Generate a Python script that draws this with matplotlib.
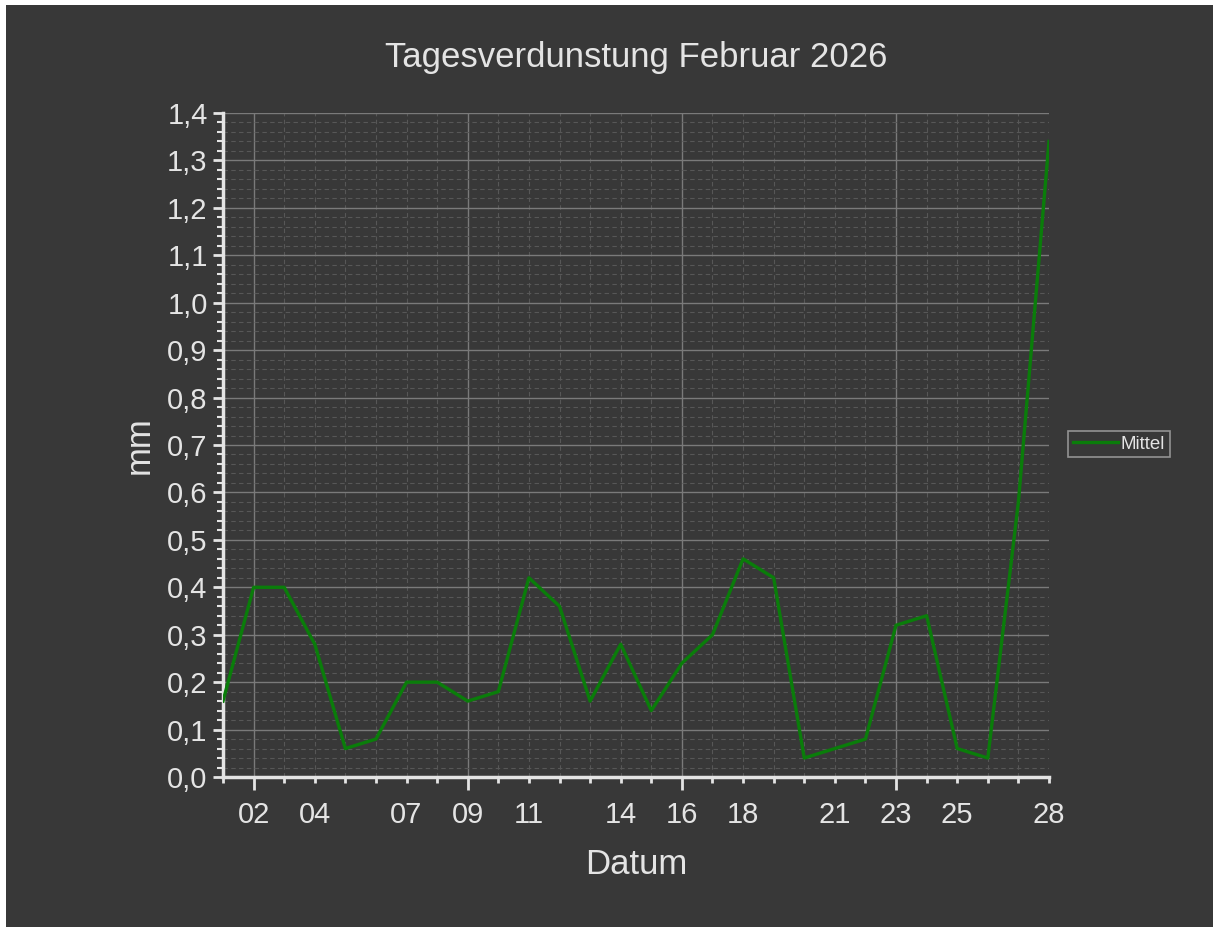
import matplotlib
matplotlib.use("Agg")
import matplotlib.pyplot as plt
from matplotlib.patches import Rectangle
from matplotlib.ticker import FixedLocator, FixedFormatter, MultipleLocator, FuncFormatter

# Tagesverdunstung Februar 2026 (mm)
days = list(range(1, 29))
mittel = [0.16, 0.40, 0.40, 0.28, 0.06, 0.08, 0.20, 0.20, 0.16, 0.18,
          0.42, 0.36, 0.16, 0.28, 0.14, 0.24, 0.30, 0.46, 0.42, 0.04,
          0.06, 0.08, 0.32, 0.34, 0.06, 0.04, 0.58, 1.34]

major_days = [2, 9, 16, 23]
major_labels = ["02", "09", "16", "23"]
minor_days = [d for d in days if d not in major_days]
minor_label_map = {4: "04", 7: "07", 11: "11", 14: "14", 18: "18",
                   21: "21", 25: "25", 28: "28"}

bg = "#383838"
fg = "#e4e4e4"
plt.rcParams['font.family'] = ['Liberation Sans', 'DejaVu Sans']

fig = plt.figure(figsize=(12.13, 9.27), dpi=100, facecolor="white")
fig.patches.append(Rectangle((6 / 1213, 0), 1, 1 - 5 / 927, transform=fig.transFigure,
                             facecolor=bg, edgecolor="none", zorder=-10))

ax = fig.add_axes([223 / 1213, 1 - 777 / 927, (1049 - 223) / 1213, (777 - 113) / 927])
ax.set_facecolor(bg)

line, = ax.plot(days, mittel, color="#0a7d0a", lw=2.4, label="Mittel", zorder=3)

ax.set_xlim(1, 28)
ax.set_ylim(0, 1.4)

# x axis ticks
ax.xaxis.set_major_locator(FixedLocator(major_days))
ax.xaxis.set_major_formatter(FixedFormatter(major_labels))
ax.xaxis.set_minor_locator(FixedLocator(minor_days))
ax.xaxis.set_minor_formatter(FixedFormatter([minor_label_map.get(d, "") for d in minor_days]))

# y axis ticks
ax.yaxis.set_major_locator(MultipleLocator(0.1))
ax.yaxis.set_minor_locator(MultipleLocator(0.02))
ax.yaxis.set_major_formatter(FuncFormatter(lambda v, p: ("%.1f" % v).replace(".", ",")))

ax.tick_params(axis="x", which="major", length=9, width=2, color=fg, labelcolor=fg,
               labelsize=21, pad=8)
ax.tick_params(axis="x", which="minor", length=4.5, width=2, color=fg, labelcolor=fg,
               labelsize=21, pad=12.5)
ax.tick_params(axis="y", which="major", length=7, width=2, color=fg, labelcolor=fg,
               labelsize=21, pad=4)
ax.tick_params(axis="y", which="minor", length=4, width=1.5, color=fg)

ax.grid(which="major", color="#7a7a7a", lw=1, ls="-")
ax.grid(which="minor", color="#575757", lw=0.8, ls=(0, (4, 3)))
ax.set_axisbelow(True)

for s in ["top", "right"]:
    ax.spines[s].set_visible(False)
for s in ["left", "bottom"]:
    ax.spines[s].set_color(fg)
    ax.spines[s].set_linewidth(2.5)

ax.set_title("Tagesverdunstung Februar 2026", color=fg, fontsize=25, pad=33)
ax.set_xlabel("Datum", color=fg, fontsize=25, labelpad=14)
ax.set_ylabel("mm", color=fg, fontsize=25, labelpad=8)

leg = ax.legend(loc="center left", bbox_to_anchor=(1068 / 1213, 1 - 444 / 927),
                bbox_transform=fig.transFigure, fontsize=13.5, frameon=True,
                fancybox=False, handlelength=2.4, handletextpad=0.15,
                borderpad=0.25, borderaxespad=0)
leg.get_frame().set_facecolor(bg)
leg.get_frame().set_edgecolor("#aaaaaa")
leg.get_frame().set_linewidth(1.2)
for t in leg.get_texts():
    t.set_color(fg)

fig.savefig("out.png", dpi=100, facecolor=fig.get_facecolor())
